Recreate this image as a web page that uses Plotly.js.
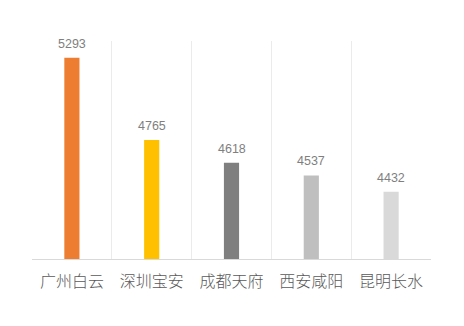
<!DOCTYPE html>
<html><head><meta charset="utf-8">
<script src="https://cdn.plot.ly/plotly-3.0.1.min.js"></script>
<style>html,body{margin:0;padding:0;background:#fff}#c{width:464px;height:326px}</style>
</head><body><div id="c"></div>
<script>
var categories = ["广州白云", "深圳宝安", "成都天府", "西安咸阳", "昆明长水"];
var values = [5293, 4765, 4618, 4537, 4432];
var barColors = ["#ED7D31", "#FFC000", "#7F7F7F", "#BFBFBF", "#D9D9D9"];

var trace = {
  type: "bar",
  x: categories,
  y: values,
  marker: {color: barColors},
  width: 0.19,
  hoverinfo: "none"
};
var annotations = categories.map(function(c, i){
  return {x: c, y: values[i], text: String(values[i]), showarrow: false,
    yanchor: "bottom", yshift: 5, font: {family: "Liberation Sans, Arial, sans-serif", size: 12.5, color: "#7F7F7F"}};
});
var layout = {
  width: 464, height: 326,
  margin: {l: 32, r: 33, t: 41, b: 67},
  paper_bgcolor: "#fff", plot_bgcolor: "#fff",
  showlegend: false,
  xaxis: {
    type: "category",
    showgrid: true, gridcolor: "#EBEBEB", gridwidth: 1,
    tickson: "boundaries", ticks: "",
    showline: true, linecolor: "#D9D9D9", linewidth: 1,
    tickfont: {family: "Noto Sans CJK SC", size: 16, color: "#595959", weight: 300},
    ticklabelstandoff: 8,
    fixedrange: true
  },
  yaxis: {
    range: [4000, 5400], visible: false, showgrid: false, zeroline: false, fixedrange: true
  },
  annotations: annotations
};
Plotly.newPlot("c", [trace], layout, {displayModeBar: false, staticPlot: true});
</script></body></html>
